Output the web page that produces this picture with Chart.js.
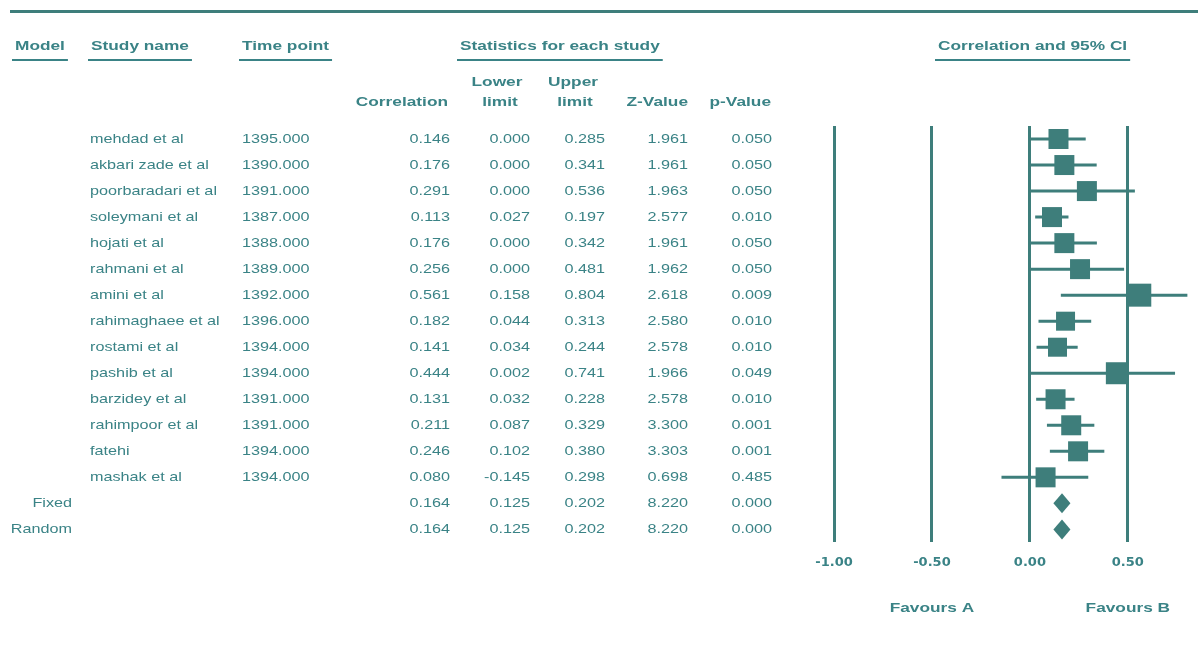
<!DOCTYPE html>
<html>
<head>
<meta charset="utf-8">
<title>Forest plot</title>
<script src="https://cdn.jsdelivr.net/npm/chart.js@4.4.1/dist/chart.umd.min.js"></script>
<style>
  html, body { margin: 0; padding: 0; background: #fff; }
  canvas { display: block; }
</style>
</head>
<body>
<canvas id="forestChart" width="1198" height="666"></canvas>
<script>
// DATA

const studyNames = [
    'mehdad et al', 'akbari zade et al', 'poorbaradari et al', 'soleymani et al',
    'hojati et al', 'rahmani et al', 'amini et al', 'rahimaghaee et al',
    'rostami et al', 'pashib et al', 'barzidey et al', 'rahimpoor et al',
    'fatehi', 'mashak et al'
];
const timePoints = [1395, 1390, 1391, 1387, 1388, 1389, 1392, 1396, 1394, 1394, 1391, 1391, 1394, 1394];
const correlation = [0.146, 0.176, 0.291, 0.113, 0.176, 0.256, 0.561, 0.182, 0.141, 0.444, 0.131, 0.211, 0.246, 0.080];
const lowerLimit = [0.000, 0.000, 0.000, 0.027, 0.000, 0.000, 0.158, 0.044, 0.034, 0.002, 0.032, 0.087, 0.102, -0.145];
const upperLimit = [0.285, 0.341, 0.536, 0.197, 0.342, 0.481, 0.804, 0.313, 0.244, 0.741, 0.228, 0.329, 0.380, 0.298];
const zValue = [1.961, 1.961, 1.963, 2.577, 1.961, 1.962, 2.618, 2.580, 2.578, 1.966, 2.578, 3.300, 3.303, 0.698];
const pValue = [0.050, 0.050, 0.050, 0.010, 0.050, 0.050, 0.009, 0.010, 0.010, 0.049, 0.010, 0.001, 0.001, 0.485];

const modelNames = ['Fixed', 'Random'];
const modelCorrelation = [0.164, 0.164];
const modelLower = [0.125, 0.125];
const modelUpper = [0.202, 0.202];
const modelZ = [8.220, 8.220];
const modelP = [0.000, 0.000];

const xTicks = [-1, -0.5, 0, 0.5];
const favourLabels = ['Favours A', 'Favours B'];


// STYLE

const teal = '#3e7e7b';
const textTeal = '#3a8386';
const fontFamily = '"Liberation Sans", Arial, sans-serif';
const boxSide = [20, 20, 20, 20, 20, 20, 23, 19, 19, 22, 20, 20, 20, 20];
const favourAt = [-0.5, 0.5];

const rowCount = studyNames.length + modelNames.length;


// stretched text, the original uses a wide face
function drawText(ctx, str, px, py, align, bold) {
    const sx = bold ? 1.28 : 1.2;
    ctx.save();
    ctx.font = (bold ? 'bold ' : '') + '13.5px ' + fontFamily;
    ctx.textAlign = align;
    ctx.textBaseline = 'middle';
    ctx.translate(px, py);
    ctx.scale(sx, 1);
    ctx.fillText(str, 0, 0);
    const w = ctx.measureText(str).width * sx;
    ctx.restore();
    return w;
}

function header(ctx, str, left, py) {
    const w = drawText(ctx, str, left, py, 'left', true);
    ctx.fillRect(left - 3, py + 13, w + 6, 2);
}


// FOREST PLUGIN

const forestPlugin = {
    id: 'forest',

    beforeDatasetsDraw(chart) {
        const { ctx, scales: { x, y } } = chart;
        ctx.save();

        // confidence interval lines
        ctx.strokeStyle = teal;
        ctx.lineWidth = 3;
        lowerLimit.forEach((lo, i) => {
            const py = y.getPixelForValue(i);
            ctx.beginPath();
            ctx.moveTo(x.getPixelForValue(lo), py);
            ctx.lineTo(x.getPixelForValue(upperLimit[i]), py);
            ctx.stroke();
        });

        // summary diamonds
        ctx.fillStyle = teal;
        modelCorrelation.forEach((c, j) => {
            const py = y.getPixelForValue(studyNames.length + j);
            const left = x.getPixelForValue(modelLower[j]);
            const right = x.getPixelForValue(modelUpper[j]);
            const mid = x.getPixelForValue(c);
            ctx.beginPath();
            ctx.moveTo(left - 1, py);
            ctx.lineTo(mid, py - 10);
            ctx.lineTo(right + 1, py);
            ctx.lineTo(mid, py + 10);
            ctx.closePath();
            ctx.fill();
        });

        ctx.restore();
    },

    afterDraw(chart) {
        const { ctx, scales: { x, y } } = chart;
        ctx.save();

        // top rule
        ctx.fillStyle = teal;
        ctx.fillRect(10, 10, 1188, 3);

        // headers
        ctx.fillStyle = textTeal;
        header(ctx, 'Model', 15, 46);
        header(ctx, 'Study name', 91, 46);
        header(ctx, 'Time point', 242, 46);
        header(ctx, 'Statistics for each study', 460, 46);
        header(ctx, 'Correlation and 95% CI', 938, 46);

        drawText(ctx, 'Correlation', 448, 102, 'right', true);
        drawText(ctx, 'Lower', 497, 82, 'center', true);
        drawText(ctx, 'limit', 500, 102, 'center', true);
        drawText(ctx, 'Upper', 573, 82, 'center', true);
        drawText(ctx, 'limit', 575, 102, 'center', true);
        drawText(ctx, 'Z-Value', 688, 102, 'right', true);
        drawText(ctx, 'p-Value', 771, 102, 'right', true);

        // study rows
        studyNames.forEach((name, i) => {
            const py = y.getPixelForValue(i);
            drawText(ctx, name, 90, py, 'left', false);
            drawText(ctx, timePoints[i].toFixed(3), 242, py, 'left', false);
            drawText(ctx, correlation[i].toFixed(3), 450, py, 'right', false);
            drawText(ctx, lowerLimit[i].toFixed(3), 530, py, 'right', false);
            drawText(ctx, upperLimit[i].toFixed(3), 605, py, 'right', false);
            drawText(ctx, zValue[i].toFixed(3), 688, py, 'right', false);
            drawText(ctx, pValue[i].toFixed(3), 772, py, 'right', false);
        });

        // model rows
        modelNames.forEach((name, j) => {
            const py = y.getPixelForValue(studyNames.length + j);
            drawText(ctx, name, 72, py, 'right', false);
            drawText(ctx, modelCorrelation[j].toFixed(3), 450, py, 'right', false);
            drawText(ctx, modelLower[j].toFixed(3), 530, py, 'right', false);
            drawText(ctx, modelUpper[j].toFixed(3), 605, py, 'right', false);
            drawText(ctx, modelZ[j].toFixed(3), 688, py, 'right', false);
            drawText(ctx, modelP[j].toFixed(3), 772, py, 'right', false);
        });

        // favours labels
        favourLabels.forEach((label, k) => {
            drawText(ctx, label, x.getPixelForValue(favourAt[k]), 608, 'center', true);
        });

        ctx.restore();
    }
};


// CHART.JS

const ctx = document.getElementById('forestChart');

new Chart(ctx, {
    type: 'scatter',

    data: {
        datasets: [{
            label: 'Correlation',
            data: correlation.map((c, i) => ({ x: c, y: i })),
            pointStyle: 'rect',
            pointRadius: boxSide.map(s => s / Math.SQRT2),
            pointHoverRadius: boxSide.map(s => s / Math.SQRT2),
            backgroundColor: teal,
            borderWidth: 0,
            clip: false
        }]
    },

    options: {
        responsive: false,
        animation: false,

        layout: {
            autoPadding: false,
            padding: { left: 834, right: 2, top: 126, bottom: 84 }
        },

        plugins: {
            legend: { display: false },
            tooltip: { enabled: false }
        },

        scales: {
            x: {
                type: 'linear',
                min: -1,
                max: 0.848,
                afterBuildTicks: scale => {
                    scale.ticks = xTicks.map(v => ({ value: v }));
                },
                grid: {
                    color: teal,
                    lineWidth: 3,
                    drawTicks: false
                },
                border: { display: false },
                ticks: {
                    padding: 12,
                    color: textTeal,
                    font: { family: '"DejaVu Sans", sans-serif', size: 13, weight: 'bold' },
                    callback: v => Number(v).toFixed(2)
                }
            },
            y: {
                type: 'linear',
                reverse: true,
                min: -0.5,
                max: rowCount - 0.5,
                display: false
            }
        }
    },

    plugins: [forestPlugin]
});
</script>
</body>
</html>
